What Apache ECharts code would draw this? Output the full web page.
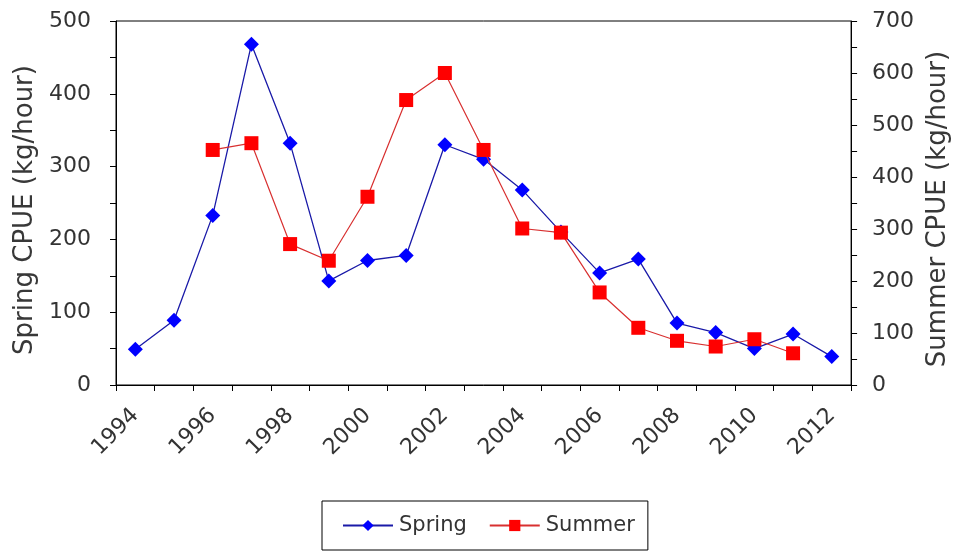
<!DOCTYPE html>
<html>
<head>
<meta charset="utf-8">
<script src="https://cdn.jsdelivr.net/npm/echarts@6/dist/echarts.min.js"></script>
<style>html,body{margin:0;padding:0;background:#fff}#c{width:959px;height:554px}</style>
</head>
<body>
<div id="c"></div>
<script>
const years = ['1994','1995','1996','1997','1998','1999','2000','2001','2002','2003','2004','2005','2006','2007','2008','2009','2010','2011','2012'];
const spring = [49, 89, 233, 468, 332, 143, 171, 178, 330, 310, 268, 210, 154, 173, 85, 72, 50, 70, 39];
const summer = [null, null, 452, 465, 271, 239, 362, 548, 600, 452, 301, 293, 178, 110, 85, 74, 88, 61, null];
const leftTicks = [0, 100, 200, 300, 400, 500];
const rightTicks = [0, 100, 200, 300, 400, 500, 600, 700];

const font = 'DejaVu Sans, Liberation Sans, Arial, sans-serif';
const chart = echarts.init(document.getElementById('c'), null, {renderer: 'canvas'});
chart.setOption({
  animation: false,
  backgroundColor: '#fff',
  grid: {left: 116, right: 107, top: 21, bottom: 169, show: true, borderColor: '#000', borderWidth: 1, containLabel: false},
  legend: {
    data: ['Spring', 'Summer'],
    bottom: 4, left: 322,
    itemWidth: 50, itemHeight: 14, itemGap: 22,
    padding: [14, 13, 14, 20],
    borderColor: '#000', borderWidth: 1, borderRadius: 0,
    textStyle: {fontFamily: font, fontSize: 21, color: '#333', padding: [0, 0, 0, 1]}
  },
  xAxis: {
    type: 'category',
    data: years,
    boundaryGap: true,
    axisLine: {lineStyle: {color: '#000', width: 1}},
    axisTick: {show: true, interval: 0, length: 6, inside: false, lineStyle: {color: '#000'}},
    axisLabel: {interval: 1, rotate: 45, margin: 27, fontFamily: font, fontSize: 22, color: '#333'},
    splitLine: {show: false}
  },
  yAxis: [
    {
      type: 'value', min: 0, max: 500, interval: 100, position: 'left',
      name: 'Spring CPUE (kg/hour)', nameLocation: 'middle', nameGap: 78, nameRotate: 90,
      nameTextStyle: {fontFamily: font, fontSize: 26, color: '#383838', padding: [0, 14, 0, 0]},
      axisLine: {show: true, lineStyle: {color: '#000'}},
      axisTick: {show: true, length: 6, lineStyle: {color: '#000'}},
      minorTick: {show: true, splitNumber: 2, length: 6, lineStyle: {color: '#000'}},
      axisLabel: {margin: 25, fontFamily: font, fontSize: 22, color: '#333',
        formatter: v => leftTicks.includes(v) ? String(v) : ''},
      splitLine: {show: false}
    },
    {
      type: 'value', min: 0, max: 700, interval: 100, position: 'right',
      name: 'Summer CPUE (kg/hour)', nameLocation: 'middle', nameGap: 56, nameRotate: 90,
      nameTextStyle: {fontFamily: font, fontSize: 26, color: '#383838', padding: [0, 12, 0, 0]},
      axisLine: {show: true, lineStyle: {color: '#000'}},
      axisTick: {show: true, length: 6, lineStyle: {color: '#000'}},
      minorTick: {show: true, splitNumber: 2, length: 6, lineStyle: {color: '#000'}},
      axisLabel: {margin: 21, fontFamily: font, fontSize: 22, color: '#333',
        formatter: v => rightTicks.includes(v) ? String(v) : ''},
      splitLine: {show: false}
    }
  ],
  series: [
    {
      name: 'Spring', type: 'line', yAxisIndex: 0, data: spring,
      symbol: 'diamond', symbolSize: 15,
      lineStyle: {color: '#1a1aa8', width: 1.3},
      itemStyle: {color: '#0000ff'},
      z: 3
    },
    {
      name: 'Summer', type: 'line', yAxisIndex: 1, data: summer,
      symbol: 'rect', symbolSize: 14, connectNulls: false,
      lineStyle: {color: '#d83030', width: 1.2},
      itemStyle: {color: '#ff0000'},
      z: 4
    }
  ]
});
</script>
</body>
</html>
